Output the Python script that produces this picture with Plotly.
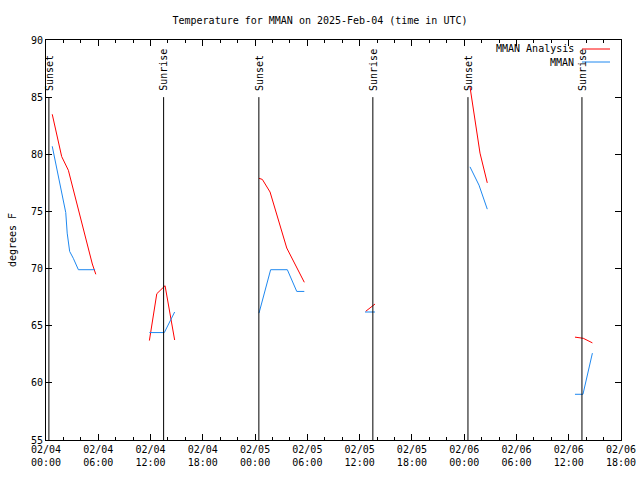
import plotly.graph_objects as go

# ---- data ----
analysis_times = [
    ["2025-02-04 00:43", "2025-02-04 01:48", "2025-02-04 02:34", "2025-02-04 02:52",
     "2025-02-04 04:06", "2025-02-04 04:52", "2025-02-04 05:19", "2025-02-04 05:43"],
    ["2025-02-04 11:52", "2025-02-04 12:43", "2025-02-04 13:40", "2025-02-04 14:46"],
    ["2025-02-05 00:27", "2025-02-05 00:50", "2025-02-05 01:43", "2025-02-05 03:38", "2025-02-05 05:39"],
    ["2025-02-05 12:42", "2025-02-05 13:46"],
    ["2025-02-06 00:40", "2025-02-06 01:49", "2025-02-06 02:39"],
    ["2025-02-06 12:43", "2025-02-06 13:40", "2025-02-06 14:43"],
]
analysis_temps = [
    [83.5, 79.8, 78.6, 77.7, 73.9, 71.5, 70.4, 69.5],
    [63.7, 67.8, 68.5, 63.75],
    [77.9, 77.8, 76.7, 71.8, 68.8],
    [66.26, 66.9],
    [85.9, 80.1, 77.5],
    [64.0, 63.9, 63.5],
]
obs_times = [
    ["2025-02-04 00:43", "2025-02-04 01:07", "2025-02-04 01:48", "2025-02-04 02:16",
     "2025-02-04 02:26", "2025-02-04 02:43", "2025-02-04 03:08", "2025-02-04 03:43", "2025-02-04 05:38"],
    ["2025-02-04 11:52", "2025-02-04 13:35", "2025-02-04 14:46"],
    ["2025-02-05 00:27", "2025-02-05 01:47", "2025-02-05 03:42", "2025-02-05 04:47", "2025-02-05 05:39"],
    ["2025-02-05 12:37", "2025-02-05 13:46"],
    ["2025-02-06 00:40", "2025-02-06 01:42", "2025-02-06 02:39"],
    ["2025-02-06 12:43", "2025-02-06 13:38", "2025-02-06 14:43"],
]
obs_temps = [
    [80.7, 79.2, 76.6, 74.9, 73.1, 71.5, 70.9, 69.9, 69.9],
    [64.4, 64.4, 66.2],
    [66.1, 69.9, 69.9, 68.0, 68.0],
    [66.2, 66.2],
    [78.9, 77.3, 75.2],
    [59.0, 59.0, 62.6],
]
sun_times = ["2025-02-04 00:20", "2025-02-04 13:30", "2025-02-05 00:26",
             "2025-02-05 13:31", "2025-02-06 00:26", "2025-02-06 13:31"]
sun_labels = ["Sunset", "Sunrise", "Sunset", "Sunrise", "Sunset", "Sunrise"]

x_tick_vals = ["2025-02-04 00:00", "2025-02-04 06:00", "2025-02-04 12:00", "2025-02-04 18:00",
               "2025-02-05 00:00", "2025-02-05 06:00", "2025-02-05 12:00", "2025-02-05 18:00",
               "2025-02-06 00:00", "2025-02-06 06:00", "2025-02-06 12:00", "2025-02-06 18:00"]
x_tick_text = ["02/04<br>00:00", "02/04<br>06:00", "02/04<br>12:00", "02/04<br>18:00",
               "02/05<br>00:00", "02/05<br>06:00", "02/05<br>12:00", "02/05<br>18:00",
               "02/06<br>00:00", "02/06<br>06:00", "02/06<br>12:00", "02/06<br>18:00"]
y_ticks = [55, 60, 65, 70, 75, 80, 85, 90]
series_names = ["MMAN Analysis", "MMAN"]

RED = "#ff0000"
BLUE = "#1e88f0"
FONT = "DejaVu Sans Mono"
TXT = dict(family=FONT, size=10, color="#000000")

W, H = 640, 480
L, R, T, B = 46, 19, 40, 40
pw, ph = W - L - R, H - T - B


def px(xp):
    return (xp - L) / pw


def py(yp):
    return (H - B - yp) / ph


def join(segs):
    out = []
    for i, s in enumerate(segs):
        if i:
            out.append(None)
        out.extend(s)
    return out


fig = go.Figure()
fig.add_trace(go.Scatter(x=join(analysis_times), y=join(analysis_temps), mode="lines",
                         line=dict(color=RED, width=1), connectgaps=False,
                         name=series_names[0], showlegend=False))
fig.add_trace(go.Scatter(x=join(obs_times), y=join(obs_temps), mode="lines",
                         line=dict(color=BLUE, width=1), connectgaps=False,
                         name=series_names[1], showlegend=False))

shapes = []
annotations = []
for t, lab in zip(sun_times, sun_labels):
    shapes.append(dict(type="line", xref="x", yref="y", x0=t, x1=t, y0=55, y1=85,
                       line=dict(color="black", width=1)))
    annotations.append(dict(x=t, y=85.35, xref="x", yref="y", text=lab, textangle=-90,
                            showarrow=False, xanchor="center", yanchor="bottom", font=TXT))

# legend (gnuplot style: text then sample line)
for name, col, ypix in zip(series_names, [RED, BLUE], [49, 62]):
    annotations.append(dict(x=px(576), y=py(ypix), xref="paper", yref="paper", text=name,
                            showarrow=False, xanchor="right", yanchor="middle", font=TXT))
    shapes.append(dict(type="line", xref="paper", yref="paper", x0=px(582), x1=px(610),
                       y0=py(ypix), y1=py(ypix), line=dict(color=col, width=1)))

fig.update_layout(
    width=W, height=H,
    margin=dict(l=L, r=R, t=T, b=B, pad=0, autoexpand=False),
    plot_bgcolor="white", paper_bgcolor="white",
    font=TXT,
    title=dict(text="Temperature for MMAN on 2025-Feb-04 (time in UTC)", x=0.5, xanchor="center",
               y=1 - 20 / H, yanchor="middle", font=TXT),
    showlegend=False,
    hovermode=False,
    xaxis=dict(
        type="date", range=["2025-02-04 00:00", "2025-02-06 18:00"],
        tickvals=x_tick_vals, ticktext=x_tick_text,
        ticks="inside", ticklen=6, tickcolor="black", tickwidth=1,
        minor=dict(dtick=2 * 3600 * 1000, tick0="2025-02-04 00:00", ticks="inside", ticklen=3,
                   tickcolor="black", tickwidth=1),
        showline=True, linecolor="black", linewidth=1, mirror="allticks",
        showgrid=False, zeroline=False, automargin=False,
        tickfont=TXT,
    ),
    yaxis=dict(
        range=[55, 90], tickvals=y_ticks,
        ticks="inside", ticklen=6, tickcolor="black", tickwidth=1,
        showline=True, linecolor="black", linewidth=1, mirror="allticks",
        showgrid=False, zeroline=False, automargin=False,
        title=dict(text="degrees F", standoff=12, font=TXT),
        tickfont=TXT,
    ),
    shapes=shapes,
    annotations=annotations,
)

fig.write_html("out.html", config={"displayModeBar": False, "staticPlot": True})
with open("out.html", encoding="utf-8") as f:
    html = f.read()
html = html.replace("<head>", "<head><style>html,body{margin:0;padding:0;overflow:hidden;}</style>", 1)
with open("out.html", "w", encoding="utf-8") as f:
    f.write(html)
